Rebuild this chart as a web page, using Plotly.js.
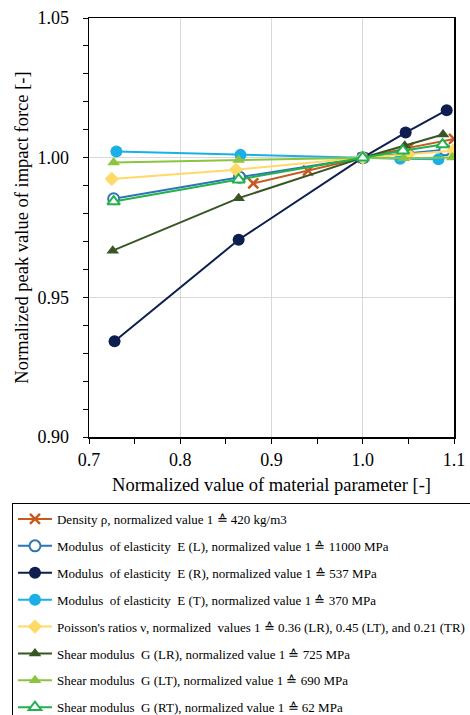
<!DOCTYPE html>
<html>
<head>
<meta charset="utf-8">
<script src="https://cdn.plot.ly/plotly-3.0.1.min.js"></script>
<style>html,body{margin:0;padding:0;background:#fff;}#chart{width:470px;height:715px;}</style>
</head>
<body>
<div id="chart"></div>
<script>
// ---- data ----
var seriesNames = [
  "Density \u03c1, normalized value 1 \u2259 420 kg/m3",
  "Modulus  of elasticity  E (L), normalized value 1 \u2259 11000 MPa",
  "Modulus  of elasticity  E (R), normalized value 1 \u2259 537 MPa",
  "Modulus  of elasticity  E (T), normalized value 1 \u2259 370 MPa",
  "Poisson's ratios \u03bd, normalized  values 1 \u2259 0.36 (LR), 0.45 (LT), and 0.21 (TR)",
  "Shear modulus  G (LR), normalized value 1 \u2259 725 MPa",
  "Shear modulus  G (LT), normalized value 1 \u2259 690 MPa",
  "Shear modulus  G (RT), normalized value 1 \u2259 62 MPa"
];
var densityX = [0.88, 0.94, 1.0, 1.05, 1.10];
var densityY = [0.9908, 0.9954, 1.0, 1.0035, 1.0067];
var eLX = [0.727, 0.865, 1.0, 1.045, 1.09];
var eLY = [0.9853, 0.9930, 1.0, 1.0015, 1.0028];
var eRX = [0.728, 0.864, 1.0, 1.047, 1.092];
var eRY = [0.9343, 0.9706, 1.0, 1.0090, 1.0170];
var eTX = [0.730, 0.866, 1.0, 1.041, 1.083];
var eTY = [1.0022, 1.0010, 1.0, 0.9996, 0.9994];
var nuX = [0.725, 0.861, 1.0, 1.05, 1.099];
var nuY = [0.9924, 0.9957, 1.0, 1.0012, 1.0025];
var gLRX = [0.726, 0.864, 1.0, 1.046, 1.088];
var gLRY = [0.9667, 0.9855, 1.0, 1.0043, 1.0083];
var gLTX = [0.727, 0.864, 1.0, 1.045, 1.098];
var gLTY = [0.9983, 0.9992, 1.0, 0.9998, 1.0001];
var gRTX = [0.727, 0.864, 1.0, 1.044, 1.0875];
var gRTY = [0.9843, 0.9921, 1.0, 1.0025, 1.0047];

var xs = [densityX, eLX, eRX, eTX, nuX, gLRX, gLTX, gRTX];
var ys = [densityY, eLY, eRY, eTY, nuY, gLRY, gLTY, gRTY];

// ---- styles ----
var colors = ["#C65A1E", "#2E75B6", "#0E1F4F", "#1AAFE6", "#FFD966", "#375623", "#8CC43F", "#22B14C"];
var markers = [
  {symbol: "x-thin", size: 10, color: colors[0], line: {color: colors[0], width: 2.5}},
  {symbol: "circle", size: 11, color: "#FFFFFF", line: {color: colors[1], width: 2}},
  {symbol: "circle", size: 12, color: colors[2], line: {width: 0}},
  {symbol: "circle", size: 12, color: colors[3], line: {width: 0}},
  {symbol: "diamond", size: 11, color: colors[4], line: {width: 0}},
  {symbol: "triangle-up", size: 11, color: colors[5], line: {width: 0}},
  {symbol: "triangle-up", size: 11, color: colors[6], line: {width: 0}},
  {symbol: "triangle-up", size: 11, color: "#FFFFFF", line: {color: colors[7], width: 2}}
];

var traces = seriesNames.map(function(name, i) {
  return {
    type: "scatter",
    mode: "lines+markers",
    name: name,
    legendgroup: "g" + i,
    x: xs[i],
    y: ys[i],
    line: {color: colors[i], width: 2},
    marker: markers[i]
  };
});

var serif = "'Liberation Serif', 'Times New Roman', serif";
var layout = {
  width: 470,
  height: 715,
  margin: {l: 89, r: 16, t: 18, b: 278, autoexpand: false},
  paper_bgcolor: "#FFFFFF",
  plot_bgcolor: "#FFFFFF",
  font: {family: serif, color: "#000000", size: 18},
  showlegend: true,
  xaxis: {
    range: [0.7, 1.1],
    dtick: 0.1,
    tick0: 0.7,
    tickformat: ".1f",
    ticks: "outside",
    ticklen: 5,
    tickcolor: "#000",
    tickwidth: 1,
    ticklabelstandoff: 1,
    showline: true,
    linecolor: "#000",
    linewidth: 1.5,
    mirror: true,
    showgrid: true,
    gridcolor: "#D9D9D9",
    gridwidth: 1,
    zeroline: false,
    minor: {dtick: 0.05, ticks: "outside", ticklen: 5, tickcolor: "#000", showgrid: false},
    tickfont: {family: serif, size: 18, color: "#000"},
    title: {text: "Normalized value of material parameter [-]", font: {family: serif, size: 18.5, color: "#000"}, standoff: 9}
  },
  yaxis: {
    range: [0.9, 1.05],
    dtick: 0.05,
    tick0: 0.9,
    tickformat: ".2f",
    ticks: "outside",
    ticklen: 5,
    tickcolor: "#000",
    tickwidth: 1,
    ticklabelstandoff: 10,
    showline: true,
    linecolor: "#000",
    linewidth: 1.5,
    mirror: true,
    showgrid: true,
    gridcolor: "#D9D9D9",
    gridwidth: 1,
    zeroline: false,
    minor: {dtick: 0.01, ticks: "outside", ticklen: 5, tickcolor: "#000", showgrid: false},
    tickfont: {family: serif, size: 18, color: "#000"},
    title: {text: "Normalized peak value of impact force [-]", font: {family: serif, size: 18.5, color: "#000"}, standoff: 4}
  },
  legend: {
    xref: "paper",
    yref: "paper",
    x: -0.211,
    y: -0.1575,
    xanchor: "left",
    yanchor: "top",
    bgcolor: "#FFFFFF",
    bordercolor: "#000000",
    borderwidth: 1,
    tracegroupgap: 7,
    traceorder: "grouped",
    itemwidth: 34,
    font: {family: serif, size: 13, color: "#000"}
  }
};

Plotly.newPlot("chart", traces, layout, {displayModeBar: false, staticPlot: true});
</script>
</body>
</html>
